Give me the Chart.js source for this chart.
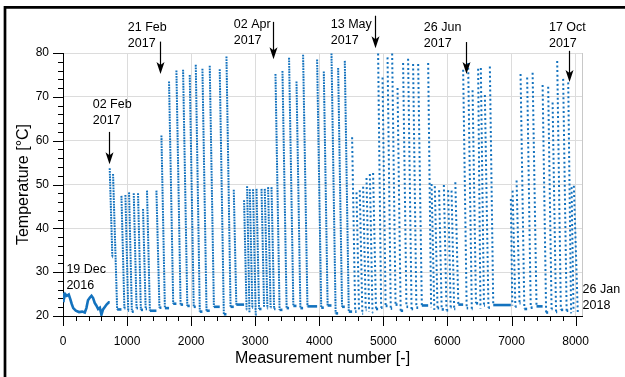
<!DOCTYPE html>
<html>
<head>
<meta charset="utf-8">
<script src="https://cdn.jsdelivr.net/npm/chart.js@4"></script>
<style>
  body { margin: 0; background: #fff; }
  canvas { display: block; }
</style>
</head>
<body>
<canvas id="tempChart" width="625" height="377"></canvas>
<script>
// tick labels
const xTicks = [0, 1000, 2000, 3000, 4000, 5000, 6000, 7000, 8000];
const yTicks = [20, 30, 40, 50, 60, 70, 80];

// slow drift before the first heating cycle (19 Dec - 02 Feb)
const waveX = [0, 8, 20, 35, 60, 90, 115, 135, 160, 200, 250, 300, 340, 365, 390, 420, 445, 470, 495, 520, 548, 575, 600, 625, 650, 680, 715];
const waveY = [23.5, 25.3, 24.2, 25.0, 24.6, 24.9, 23.8, 22.8, 21.8, 21.2, 20.9, 21.0, 20.8, 21.8, 23.6, 24.2, 24.6, 24.1, 23.0, 22.4, 21.6, 21.9, 20.3, 21.5, 22.0, 22.6, 23.1];

// heating cycles: measurement where the peak is hit, peak temp,
// measurement where it is back near ambient, and that ambient temp
const cycleStart = [
  729, 781, 912, 974, 1031, 1104, 1171, 1249, 1311, 1458,
  1536, 1655, 1770, 1874, 1978, 2072, 2176, 2290, 2446, 2551,
  2665, 2826, 2873, 2915, 2966, 3020, 3098, 3149, 3201, 3254,
  3316, 3425, 3528, 3644, 3747, 3966, 4070, 4190, 4294, 4398,
  4512, 4581, 4632, 4684, 4737, 4789, 4840, 4918, 4987, 5065,
  5137, 5221, 5308, 5386, 5464, 5543, 5699, 5752, 5803, 5870, 5944,
  6011, 6064, 6123, 6245, 6323, 6392, 6479, 6521, 6584, 6662,
  6990, 7017, 7079, 7141, 7244, 7329, 7485, 7572, 7641, 7713,
  7806, 7885, 7937, 7973
];
const cyclePeak = [
  53.7, 52.4, 47.4, 47.6, 48.2, 48.0, 48.0, 44.4, 48.6, 48.6,
  61.2, 73.5, 76.0, 76.2, 75.0, 77.3, 76.4, 77.1, 76.3, 79.2,
  48.8, 46.4, 49.6, 48.9, 48.9, 49.0, 49.0, 49.0, 49.4, 49.4,
  75.2, 75.9, 78.9, 73.5, 79.6, 78.5, 75.8, 79.9, 76.6, 78.2,
  60.8, 48.2, 48.7, 49.5, 51.5, 52.4, 52.6, 79.9, 74.4, 79.0,
  79.9, 72.0, 77.7, 78.7, 77.5, 77.5, 77.7, 50.1, 49.6, 48.7, 49.9,
  48.7, 48.6, 50.5, 76.2, 77.7, 71.5, 76.4, 76.6, 70.4, 76.9,
  46.7, 48.6, 50.9, 75.2, 74.4, 75.5, 72.7, 72.3, 68.7, 78.2,
  74.1, 73.3, 49.4, 49.7
];
const cycleEnd = [
  770, 845, 958, 1018, 1075, 1148, 1215, 1290, 1356, 1505,
  1590, 1720, 1835, 1940, 2040, 2135, 2240, 2355, 2510, 2615,
  2705, 2865, 2910, 2955, 3008, 3060, 3138, 3190, 3240, 3295,
  3380, 3490, 3595, 3705, 3815, 4030, 4130, 4255, 4355, 4460,
  4560, 4620, 4672, 4725, 4778, 4830, 4885, 4965, 5035, 5115,
  5190, 5270, 5360, 5440, 5515, 5600, 5745, 5795, 5845, 5910, 5985,
  6050, 6105, 6170, 6300, 6380, 6445, 6515, 6570, 6640, 6715,
  7012, 7060, 7125, 7200, 7300, 7390, 7540, 7625, 7695, 7770,
  7860, 7930, 7968, 8035
];
const cycleFloor = [
  33.5, 21.5, 21.8, 21.2, 21.0, 21.8, 21.4, 21.6, 21.2, 21.9,
  21.8, 22.8, 22.6, 22.3, 22.1, 21.0, 21.2, 22.1, 20.4, 22.1,
  22.6, 21.5, 20.8, 21.9, 20.3, 21.6, 22.1, 21.8, 22.0, 21.6,
  21.4, 21.8, 22.3, 21.8, 22.2, 21.9, 22.4, 20.6, 22.1, 21.0,
  21.0, 21.2, 20.5, 21.4, 21.0, 20.8, 21.6, 21.9, 22.3, 21.7,
  22.6, 21.2, 22.1, 21.6, 21.9, 22.4, 22.0, 21.4, 21.8, 21.5, 21.3,
  22.0, 21.6, 22.6, 21.8, 21.6, 22.9, 21.7, 22.4, 21.9, 22.5,
  22.4, 22.1, 22.9, 21.6, 21.9, 22.2, 20.8, 21.6, 20.9, 21.4,
  21.2, 20.6, 21.0, 20.4
];

// date notes (text position and arrow in data units)
const notes = [
  { lines: ['19 Dec', '2016'], tx: 53, ty: 30.7 },
  { lines: ['02 Feb', '2017'], tx: 464, ty: 68.3, ax: 720, from: 62.0, to: 54.6 },
  { lines: ['21 Feb', '2017'], tx: 1011, ty: 85.8, ax: 1521, from: 82.6, to: 75.2 },
  { lines: ['02 Apr', '2017'], tx: 2665, ty: 86.5, ax: 3279, from: 87.1, to: 78.6 },
  { lines: ['13 May', '2017'], tx: 4180, ty: 86.5, ax: 4871, from: 88.5, to: 81.1 },
  { lines: ['26 Jun', '2017'], tx: 5632, ty: 85.8, ax: 6287, from: 82.5, to: 75.2 },
  { lines: ['17 Oct', '2017'], tx: 7584, ty: 85.8, ax: 7903, from: 80.5, to: 73.4 },
  { lines: ['26 Jan', '2018'], tx: 8109, ty: 26.0 }
];

const blue = '#1372be';

// series: drift, then for each cycle jump up, decay back down
const points = waveX.map((x, i) => ({ x: x, y: waveY[i] }));
let floor = waveY[waveY.length - 1];
cycleStart.forEach((x, i) => {
  points.push({ x: x, y: floor });
  points.push({ x: x, y: cyclePeak[i] });
  points.push({ x: cycleEnd[i], y: cycleFloor[i] });
  floor = cycleFloor[i];
});

const isRise = c => c.p0.parsed.x === c.p1.parsed.x && c.p1.parsed.y > c.p0.parsed.y;
const isDecay = c => c.p0.parsed.y - c.p1.parsed.y > 2;

// minor + major tick marks, plot frame, outer frame, date notes
const decorations = {
  id: 'decorations',
  beforeDatasetsDraw(chart) {
    const { ctx, chartArea: a } = chart;
    ctx.save();
    ctx.strokeStyle = '#c8c8c8';
    ctx.lineWidth = 1;
    ctx.beginPath();
    ctx.moveTo(Math.round(a.right) + 0.5, a.top);
    ctx.lineTo(Math.round(a.right) + 0.5, a.bottom);
    ctx.stroke();
    ctx.restore();
  },
  afterDraw(chart) {
    const { ctx, chartArea: a, scales: { x, y } } = chart;
    ctx.save();
    ctx.strokeStyle = '#000';
    ctx.lineWidth = 1;
    ctx.beginPath();
    xTicks.forEach((v, i) => {
      const px = Math.round(x.getPixelForValue(v)) + 0.5;
      ctx.moveTo(px, a.bottom);
      ctx.lineTo(px, a.bottom + 10);
      if (i < xTicks.length - 1) {
        for (let k = 1; k < 5; k++) {
          const m = Math.round(x.getPixelForValue(v + (xTicks[i + 1] - v) * k / 5)) + 0.5;
          ctx.moveTo(m, a.bottom);
          ctx.lineTo(m, a.bottom + 5);
        }
      }
    });
    yTicks.forEach((v, i) => {
      const py = Math.round(y.getPixelForValue(v)) + 0.5;
      ctx.moveTo(a.left, py);
      ctx.lineTo(a.left - 10, py);
      if (i < yTicks.length - 1) {
        for (let k = 1; k < 5; k++) {
          const m = Math.round(y.getPixelForValue(v + (yTicks[i + 1] - v) * k / 5)) + 0.5;
          ctx.moveTo(a.left, m);
          ctx.lineTo(a.left - 5, m);
        }
      }
    });
    ctx.stroke();

    // outer black frame
    ctx.lineWidth = 2.7;
    ctx.beginPath();
    ctx.moveTo(5, 377);
    ctx.lineTo(5, 7.3);
    ctx.lineTo(625, 7.3);
    ctx.stroke();

    // notes
    ctx.fillStyle = '#000';
    ctx.font = '12.5px "Liberation Sans", Arial, sans-serif';
    ctx.textAlign = 'left';
    ctx.textBaseline = 'middle';
    notes.forEach(n => {
      const tx = x.getPixelForValue(n.tx);
      const ty = y.getPixelForValue(n.ty);
      n.lines.forEach((t, j) => ctx.fillText(t, tx, ty + j * 16));
      if (n.ax !== undefined) {
        const ax = Math.round(x.getPixelForValue(n.ax)) + 0.5;
        const top = y.getPixelForValue(n.from);
        const tip = y.getPixelForValue(n.to);
        ctx.lineWidth = 1.2;
        ctx.beginPath();
        ctx.moveTo(ax, top);
        ctx.lineTo(ax, tip - 8);
        ctx.stroke();
        ctx.beginPath();
        ctx.moveTo(ax, tip);
        ctx.lineTo(ax - 4, tip - 12);
        ctx.lineTo(ax, tip - 9);
        ctx.lineTo(ax + 4, tip - 12);
        ctx.closePath();
        ctx.fill();
      }
    });
    ctx.restore();
  }
};

Chart.defaults.font.family = '"Liberation Sans", Arial, sans-serif';
Chart.defaults.color = '#000';

new Chart(document.getElementById('tempChart'), {
  type: 'line',
  data: {
    datasets: [{
      label: 'Temperature',
      data: points,
      borderColor: blue,
      borderWidth: 2.6,
      pointRadius: 0,
      tension: 0,
      segment: {
        borderColor: c => isRise(c) ? 'rgba(0,0,0,0)' : undefined,
        borderDash: c => isDecay(c) ? (c.p0.parsed.x < 4450 ? [1.8, 0.9] : [2, 2.6]) : undefined,
        borderWidth: c => isDecay(c) ? 2 : undefined
      }
    }]
  },
  options: {
    responsive: false,
    animation: false,
    layout: { padding: { top: 53, right: 43, bottom: 0, left: 0 } },
    plugins: {
      legend: { display: false },
      tooltip: { enabled: false }
    },
    scales: {
      x: {
        type: 'linear',
        min: 0,
        max: 8100,
        afterBuildTicks: s => { s.ticks = xTicks.map(v => ({ value: v })); },
        afterFit: s => { s.height = 61; },
        grid: { color: '#dcdcdc', drawTicks: false },
        border: { color: '#000', width: 1 },
        ticks: { padding: 18, autoSkip: false, maxRotation: 0, font: { size: 12 }, callback: v => String(v) },
        title: { display: true, text: 'Measurement number [-]', font: { size: 16 }, padding: { top: 0, bottom: 9 } }
      },
      y: {
        min: 20,
        max: 80,
        afterBuildTicks: s => { s.ticks = yTicks.map(v => ({ value: v })); },
        afterFit: s => { s.width = 63; },
        grid: { color: '#dcdcdc', drawTicks: false },
        border: { color: '#000', width: 1 },
        ticks: { padding: 14, font: { size: 12 }, callback: v => String(v) },
        title: { display: true, text: 'Temperature [°C]', font: { size: 16 }, padding: { top: 14, bottom: 0 } }
      }
    }
  },
  plugins: [decorations]
});
</script>
</body>
</html>
